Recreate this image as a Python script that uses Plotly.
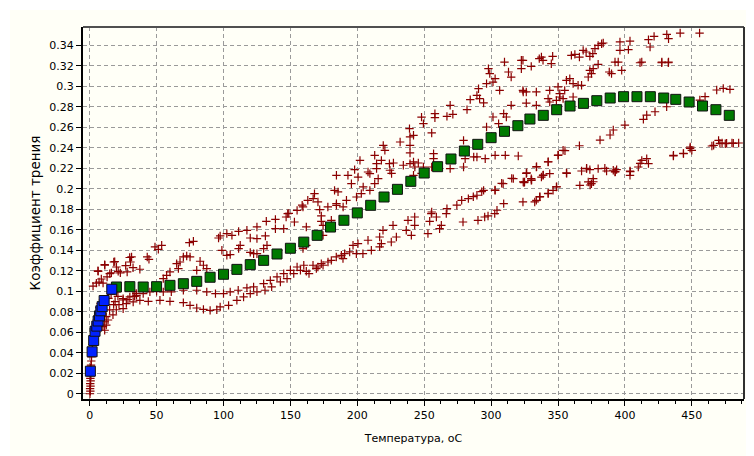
import plotly.graph_objects as go

# ---------------- data ----------------
# averaged curve (green squares)
avg_T = [20, 30, 40, 50, 60, 70, 80, 90, 100, 110, 120, 130, 140, 150, 160, 170, 180, 190,
         200, 210, 220, 230, 240, 250, 260, 270, 280, 290, 300, 310, 320, 329, 339, 349,
         359, 369, 379, 389, 399, 409, 419, 429, 438, 448, 458, 468, 478]
avg_mu = [0.1042, 0.1045, 0.1042, 0.1045, 0.1058, 0.1074, 0.1097, 0.1137, 0.1166, 0.1214,
          0.126, 0.1302, 0.1364, 0.142, 0.148, 0.1546, 0.1627, 0.1693, 0.1765, 0.1839,
          0.192, 0.1995, 0.2073, 0.2154, 0.2216, 0.2291, 0.2369, 0.2434, 0.2499, 0.2561,
          0.2616, 0.2681, 0.2717, 0.2772, 0.2808, 0.2834, 0.286, 0.2886, 0.2899, 0.2899,
          0.2899, 0.2886, 0.2873, 0.2847, 0.2808, 0.2772, 0.2717]

# running-in part (blue squares)
start_T = [0.5, 1.8, 3.0, 4.0, 5.3, 6.3, 7.3, 8.3, 9.3, 10.8, 16.5]
start_mu = [0.022, 0.041, 0.052, 0.061, 0.066, 0.071, 0.076, 0.081, 0.085, 0.091, 0.102]

# individual measurements (crosses), grouped by region of the chart
pts_origin_T = [0.2, 0.5, 0.3, 0.6, 0.4, 0.7, 0.5, 0.8, 0.6, 0.9, 0.7,
                1.0, 1.2, 1.4, 1.6, 1.9, 2.2, 2.6, 3.0, 3.5, 4.0, 4.6, 5.2, 5.8, 6.5, 7.3, 8.2,
                9.9, 11.2, 12.4, 14.9, 17.9, 12.4, 9.9, 14.0, 16.0, 19.0,
                6.2, 11.2, 18.7, 29.9, 26.9, 32.4, 22.9, 16.2, 13.0, 8.7, 5.0, 2.5, 7.0, 10.0,
                21.1, 24.9, 27.4, 28.6, 33.6, 34.8, 32.4, 21.9, 19.9, 17.4, 13.7, 12.4, 11.2]
pts_origin_mu = [0.000, 0.0025, 0.005, 0.0075, 0.010, 0.0125, 0.015, 0.0175, 0.020, 0.0225, 0.025,
                 0.028, 0.032, 0.036, 0.040, 0.044, 0.048, 0.052, 0.056, 0.060, 0.064, 0.068,
                 0.072, 0.076, 0.080, 0.084, 0.088,
                 0.0655, 0.0703, 0.0752, 0.0818, 0.087, 0.087, 0.0915, 0.093, 0.097, 0.090,
                 0.120, 0.126, 0.129, 0.133, 0.125, 0.123, 0.118, 0.118, 0.114, 0.112, 0.108,
                 0.105, 0.109, 0.108,
                 0.095, 0.0915, 0.088, 0.092, 0.095, 0.098, 0.100, 0.087, 0.082, 0.077, 0.072,
                 0.067, 0.062]

pts_upper_left_T = [6.3, 11.3, 18, 20, 15, 21.3, 28, 31.3, 30.5, 37.5, 43, 44.3, 48.8, 53.8, 51.3,
                    60, 57.5, 55, 65, 67.5, 70, 72.5, 75, 77.5, 74.5, 66.3, 82.5, 85, 87.5, 80,
                    96.3, 97.5, 102.5, 106.3, 111.3, 117.5, 125, 132, 138.8, 146.8, 148, 145,
                    138.8, 131.3, 125, 120, 153, 112.5, 111.3, 105, 102.5, 98.8, 120, 122.5, 125,
                    130, 132.5, 155, 158.8, 148.8]
pts_upper_left_mu = [0.1195, 0.1254, 0.1286, 0.1237, 0.1172, 0.1195, 0.1189, 0.1335, 0.1286,
                     0.1215, 0.1335, 0.1312, 0.1433, 0.1449, 0.141, 0.1189, 0.1156, 0.1124,
                     0.127, 0.1286, 0.1335, 0.1345, 0.1335, 0.1488, 0.1475, 0.1221, 0.1293,
                     0.1254, 0.1221, 0.1205, 0.152, 0.154, 0.1563, 0.1546, 0.1585, 0.1595,
                     0.1628, 0.1683, 0.1702, 0.1725, 0.1758, 0.1611, 0.1611, 0.154, 0.1514,
                     0.152, 0.1676, 0.1449, 0.1416, 0.1358, 0.1351, 0.14, 0.138, 0.1367, 0.1367,
                     0.1416, 0.1449, 0.179, 0.184, 0.176]

pts_middle_T = [20, 25, 30, 35, 40, 45, 50, 55, 61, 70, 80, 87.5, 94, 100, 105, 111, 117.5,
                122.5, 130, 135, 140, 145, 150, 155, 160]
pts_middle_mu = [0.0994, 0.0928, 0.0945, 0.0961, 0.0977, 0.0994, 0.1, 0.0994, 0.0994, 0.101,
                 0.101, 0.0994, 0.0977, 0.0977, 0.0994, 0.101, 0.1033, 0.1043, 0.1075, 0.1107,
                 0.114, 0.1172, 0.1205, 0.1237, 0.1254]

pts_lower_T = [25, 32.5, 37.5, 43.8, 52.5, 60, 70, 75, 80, 85, 90, 95, 97.5, 103.8, 110, 115,
               120, 125, 131, 136, 142.5, 147.5, 152.5, 157.5]
pts_lower_mu = [0.083, 0.0896, 0.0912, 0.0902, 0.0912, 0.0902, 0.0889, 0.0863, 0.0837, 0.0824,
                0.0814, 0.082, 0.0847, 0.0863, 0.0912, 0.0945, 0.0977, 0.0994, 0.101, 0.1043,
                0.1091, 0.1124, 0.1172, 0.1205]

pts_center_T = [161.9, 173.1, 173.1, 174.4, 174.4, 180.6, 159.4, 161.9, 161.9, 163.9, 166.9,
                169.4, 170.6, 173.1, 174.4, 178.1, 180.6, 184.3, 188.1, 189.3, 190.5, 194.3,
                196.8, 199.3, 200.5, 204.2, 208, 210.5, 216.7, 216.7, 219.2, 218, 225.4, 226.7,
                229.2, 236.6, 240.4, 242.9, 242.9, 237.9, 252.8, 254.1, 255.3, 259.1, 261.5,
                262.8, 266.5, 279, 290.2, 295.2, 297.7, 302.7]
pts_center_mu = [0.1628, 0.1735, 0.1683, 0.1644, 0.1546, 0.1693, 0.1416, 0.1449, 0.1195, 0.1172,
                 0.1254, 0.1221, 0.1237, 0.127, 0.1254, 0.1286, 0.1302, 0.1335, 0.1351, 0.1319,
                 0.1367, 0.1384, 0.1449, 0.1367, 0.1465, 0.1367, 0.1498, 0.14, 0.1433, 0.153,
                 0.1595, 0.1465, 0.1481, 0.1644, 0.153, 0.1595, 0.1546, 0.1644, 0.1725, 0.1693,
                 0.1563, 0.1683, 0.1758, 0.1725, 0.1611, 0.1644, 0.1758, 0.1676, 0.1693, 0.1725,
                 0.1735, 0.1758]

pts_rise_T = [159.4, 163, 168, 167, 170.6, 183, 185.6, 184.4, 193, 195.6, 198, 202, 200.6, 204.4,
              208, 213, 214.4, 215.6, 218, 219.4, 220.6, 224, 227, 225.6, 232, 239, 239.4, 242,
              239.4, 239.4, 248, 249.4, 255.6, 258, 258, 267, 269.4, 271.4, 282, 284.4, 289.4,
              290.6, 291.4, 294.4, 296.6, 298, 299, 301.4, 303, 306.4, 310, 313, 315, 322.6,
              322.6, 324]
pts_rise_mu = [0.1823, 0.1888, 0.1953, 0.1904, 0.1872, 0.1985, 0.197, 0.1855, 0.2132, 0.205,
               0.2187, 0.2278, 0.2115, 0.2018, 0.2164, 0.2327, 0.2246, 0.2099, 0.2278, 0.2424,
               0.2376, 0.2246, 0.2252, 0.215, 0.2457, 0.2587, 0.2506, 0.2522, 0.2424, 0.235,
               0.27, 0.2636, 0.2545, 0.2733, 0.2694, 0.2707, 0.2815, 0.2727, 0.2773, 0.287,
               0.2912, 0.2977, 0.288, 0.2838, 0.3026, 0.3172, 0.3124, 0.3042, 0.3075, 0.2961,
               0.3237, 0.314, 0.309, 0.3254, 0.3172, 0.2945]

pts_near_avg_T = [239.4, 242, 245.6, 243, 248, 257, 257, 255.6, 269.4, 279.4, 280.6, 279.4, 287,
                  289.4, 295.6, 296.6, 301.4, 303, 309.4, 310.6, 311.4, 315, 305.6, 316.6, 309,
                  303, 294.4, 289.4, 283, 278, 274.4, 267, 255.6, 324, 184.4, 209.4, 214.4,
                  224.4, 234.4, 242, 249.4, 213, 209.4, 203, 199.4, 191.9, 189.4, 184.4, 178,
                  171.9, 304.4, 309.4]
pts_near_avg_mu = [0.2246, 0.2262, 0.2252, 0.2213, 0.215, 0.2343, 0.2294, 0.2213, 0.2197, 0.2473,
                   0.2294, 0.2213, 0.2311, 0.2311, 0.2294, 0.2603, 0.2701, 0.2327, 0.2733,
                   0.2327, 0.2701, 0.2815, 0.2636, 0.2099, 0.205, 0.1985, 0.1985, 0.1937,
                   0.1904, 0.1888, 0.184, 0.1807, 0.1774, 0.2067, 0.2132, 0.2148, 0.2197,
                   0.2181, 0.223, 0.2132, 0.2213, 0.205, 0.1985, 0.1953, 0.192, 0.1888, 0.1823,
                   0.1839, 0.1823, 0.1797, 0.1791, 0.1855]

pts_top_T = [323.8, 330, 337.6, 336, 338.8, 345, 346, 360, 362.6, 366, 368.8, 371, 373.8, 376,
             377.6, 380, 382.6, 383.8, 396.3, 403.8, 396.3, 402.6, 417.6, 418.8, 421.8, 431.3,
             432.6, 441.3, 455.8, 411.3, 427.5, 432.4]
pts_top_mu = [0.3254, 0.3195, 0.3286, 0.327, 0.3254, 0.3221, 0.3293, 0.3302, 0.3312, 0.3286,
              0.3351, 0.3335, 0.3293, 0.3319, 0.3368, 0.34, 0.3416, 0.3423, 0.3433, 0.3442,
              0.3351, 0.3358, 0.3455, 0.3384, 0.3488, 0.3507, 0.3465, 0.352, 0.352, 0.323,
              0.323, 0.323]

pts_second_T = [323.8, 326.3, 333.8, 343.8, 350, 351.3, 355, 356.3, 358.8, 361.3, 365, 367.6,
                372.6, 375, 373.8, 376.3, 380, 388.3, 390, 392.6, 395, 397.6, 412.6, 427.6,
                432.6, 326.3, 333.8, 342.6, 343.8, 348.8, 351.3, 353.8, 361.3]
pts_second_mu = [0.2961, 0.2945, 0.2945, 0.2961, 0.2994, 0.2929, 0.2961, 0.3059, 0.3075, 0.3026,
                 0.301, 0.301, 0.3091, 0.3124, 0.3156, 0.3172, 0.3215, 0.314, 0.3124, 0.3237,
                 0.3237, 0.3156, 0.3237, 0.3237, 0.3237, 0.2837, 0.2815, 0.288, 0.2847, 0.2863,
                 0.2896, 0.288, 0.2896]

pts_right_T = [468.6, 473.5, 478.5, 459.9, 456, 431.2, 422.5, 416.3, 413.8, 400, 391.3, 388.9,
               381.4, 366, 353.8, 350, 342.6, 333.8, 326.3, 330, 337.6, 338.8, 343.8, 325,
               355.2, 350.2, 342.7, 334, 326.6, 339, 330.3, 324.6, 320.3, 315.4, 307.9, 302.9,
               293, 286.7]
pts_right_mu = [0.2964, 0.298, 0.297, 0.29, 0.2866, 0.2801, 0.2752, 0.272, 0.2678, 0.2622,
                0.2574, 0.2525, 0.2476, 0.242, 0.2376, 0.2327, 0.2262, 0.2213, 0.215, 0.2099,
                0.2115, 0.2132, 0.2148, 0.2067, 0.2372, 0.233, 0.2264, 0.2216, 0.2157, 0.2135,
                0.2086, 0.206, 0.232, 0.2102, 0.2054, 0.1988, 0.1972, 0.1923]

pts_bottom_T = [356.3, 367.6, 371.3, 373.8, 380, 386.3, 391.3, 392.6, 393.8, 403.8, 403.8, 410,
                412.6, 416.3, 417.6, 436.3, 443.8, 448.8, 450, 466.3, 470, 472.6, 475, 480, 485,
                366.3, 372.6, 376.3, 375, 330, 333.8, 332.6, 336.3, 342.6, 346.3, 348.8, 323.8,
                465, 471, 476, 481, 448.7, 443.7, 436.2, 411.4, 404, 392.8, 385, 371.4, 376.4,
                374, 356.5, 349, 342.7, 336.5]
pts_bottom_mu = [0.2155, 0.2174, 0.2197, 0.2187, 0.2197, 0.2174, 0.2181, 0.2164, 0.2187, 0.2174,
                 0.2132, 0.2213, 0.2278, 0.2294, 0.2246, 0.2327, 0.2343, 0.2408, 0.2376, 0.2424,
                 0.2473, 0.2447, 0.244, 0.2447, 0.2447, 0.2034, 0.2067, 0.2099, 0.205, 0.2083,
                 0.1888, 0.1872, 0.192, 0.1953, 0.1985, 0.2018, 0.1872, 0.2418, 0.2444, 0.2444,
                 0.2444, 0.2395, 0.2346, 0.232, 0.2249, 0.2167, 0.2167, 0.22, 0.22, 0.2069,
                 0.2037, 0.2151, 0.202, 0.1956, 0.1923]

x_ticks = [0, 50, 100, 150, 200, 250, 300, 350, 400, 450]
y_ticks = [0, 0.02, 0.04, 0.06, 0.08, 0.1, 0.12, 0.14, 0.16, 0.18, 0.2, 0.22, 0.24, 0.26,
           0.28, 0.3, 0.32, 0.34]
y_tick_text = ["0", "0.02", "0.04", "0.06", "0.08", "0.1", "0.12", "0.14", "0.16", "0.18",
               "0.2", "0.22", "0.24", "0.26", "0.28", "0.3", "0.32", "0.34"]

# ---------------- figure ----------------
cross_T = (pts_origin_T + pts_upper_left_T + pts_middle_T + pts_lower_T + pts_center_T
           + pts_rise_T + pts_near_avg_T + pts_top_T + pts_second_T + pts_right_T + pts_bottom_T)
cross_mu = (pts_origin_mu + pts_upper_left_mu + pts_middle_mu + pts_lower_mu + pts_center_mu
            + pts_rise_mu + pts_near_avg_mu + pts_top_mu + pts_second_mu + pts_right_mu
            + pts_bottom_mu)

CREAM = "#FFFFF7"
FONT = "DejaVu Sans"

fig = go.Figure()
fig.add_trace(go.Scatter(
    x=cross_T, y=cross_mu, mode="markers",
    marker=dict(symbol="cross-thin", size=6, line=dict(color="#8B0000", width=1.2),
                color="#8B0000"),
    showlegend=False, hoverinfo="x+y"))
fig.add_trace(go.Scatter(
    x=avg_T, y=avg_mu, mode="markers",
    marker=dict(symbol="square", size=10, color="#007A00",
                line=dict(color="#111111", width=1)),
    showlegend=False))
fig.add_trace(go.Scatter(
    x=start_T, y=start_mu, mode="markers",
    marker=dict(symbol="square", size=10, color="#0022FF",
                line=dict(color="#111111", width=1)),
    showlegend=False))

# the page body has an 8px margin, so the figure starts at (8, 8) in the window
OFF = 8
W, H = 754 - OFF, 456 - OFF
L, T = 83 - OFF, 27 - OFF
R, B = 10, 57
pw, ph = W - L - R, H - T - B

axis_common = dict(
    showline=True, linecolor="#000000", linewidth=2,
    ticks="outside", ticklen=5, tickcolor="#000000", tickwidth=1,
    showgrid=True, gridcolor="#9A9A9A", gridwidth=1, griddash="4px,3px",
    zeroline=False, automargin=False,
    tickfont=dict(family=FONT, size=11, color="#000000"),
)

fig.update_xaxes(
    range=[-5, 489], tickmode="array", tickvals=x_ticks,
    minor=dict(dtick=12.5, tick0=0, ticks="outside", ticklen=3, tickcolor="#000000",
               showgrid=False),
    title=dict(text="Температура, оС", font=dict(family=FONT, size=11, color="#000000"),
               standoff=13),
    **axis_common)
fig.update_yaxes(
    range=[-0.0051, 0.3579], tickmode="array", tickvals=y_ticks, ticktext=y_tick_text,
    title=dict(text="Коэффициент трения", font=dict(family=FONT, size=13.5, color="#000000"),
               standoff=6),
    **axis_common)

shapes = [
    # white strips framing the cream panel (top and left)
    dict(type="rect", xref="paper", yref="paper",
         x0=-L / pw, x1=(W - L) / pw, y0=(ph + T - 2) / ph, y1=(ph + T) / ph,
         fillcolor="#FFFFFF", line=dict(width=0), layer="below"),
    dict(type="rect", xref="paper", yref="paper",
         x0=-L / pw, x1=(2 - L) / pw, y0=-B / ph, y1=(ph + T) / ph,
         fillcolor="#FFFFFF", line=dict(width=0), layer="below"),
    # top and right frame lines
    dict(type="line", xref="paper", yref="paper", x0=0, x1=1, y0=1, y1=1,
         line=dict(color="#505050", width=2)),
    dict(type="line", xref="paper", yref="paper", x0=1, x1=1, y0=0, y1=1,
         line=dict(color="#303030", width=2)),
]

fig.update_layout(
    width=W, height=H,
    margin=dict(l=L, r=R, t=T, b=B),
    paper_bgcolor=CREAM, plot_bgcolor=CREAM,
    font=dict(family=FONT, size=11, color="#000000"),
    shapes=shapes,
)

fig.write_html("out.html")
